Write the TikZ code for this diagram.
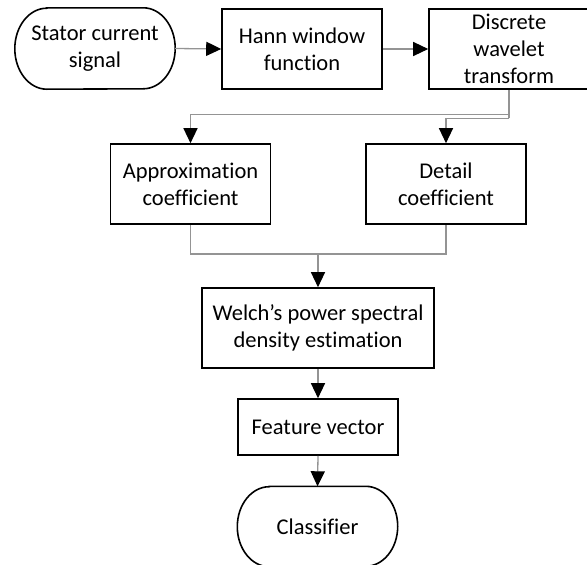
\documentclass[tikz,border=0pt]{standalone}
\usepackage{fontspec}
\setmainfont{Carlito}[Ligatures={NoCommon}]
\usetikzlibrary{arrows.meta,calc}
\begin{document}
\begin{tikzpicture}[x=1pt,y=-1pt,
  txt/.style={align=center,inner sep=1pt,font=\fontsize{22.5}{27}\selectfont},
  box/.style={txt,draw=black,line width=1.6pt,minimum width=160pt,minimum height=80pt},
  term/.style={txt,minimum width=160pt,minimum height=80pt},
  termline/.style={draw=black,line width=1.6pt},
  plain/.style={draw=black!42,line width=1.3pt},
  conn/.style={plain,-{Triangle[length=15pt,width=14pt,black]}}]
\useasboundingbox (0,0) rectangle (587,565);
\node[term,minimum height=81pt] (st) at (95,48.5) {Stator current\\signal};
\node[box] (hann) at (302,49) {Hann window\\function};
\node[box] (dwt) at (509,49) {Discrete\\wavelet\\transform};
\node[box] (app) at (190.5,184) {Approximation\\coefficient};
\node[box] (det) at (446,184) {Detail\\coefficient};
\node[box,minimum width=232pt] (welch) at (318,328) {Welch’s power spectral\\density estimation};
\node[box,minimum height=56pt] (feat) at (318,427) {Feature vector};
\node[term,minimum height=80pt] (cls) at (317.5,526.5) {Classifier};
\draw[termline] ($(st.north west)+(32,0)$) -- ($(st.north east)+(-32,0)$)
  arc[start angle=90,end angle=-90,x radius=32pt,y radius=40.5pt]
  -- ($(st.south west)+(32,0)$)
  arc[start angle=270,end angle=90,x radius=32pt,y radius=40.5pt] -- cycle;
\draw[termline] ($(cls.north west)+(32,0)$) -- ($(cls.north east)+(-32,0)$)
  arc[start angle=90,end angle=-90,x radius=32pt,y radius=40pt]
  -- ($(cls.south west)+(32,0)$)
  arc[start angle=270,end angle=90,x radius=32pt,y radius=40pt] -- cycle;
\draw[conn] (st.east) -- (hann.west);
\draw[conn] (hann.east) -- (dwt.west);
\coordinate (b1) at (509,114.3);
\coordinate (b2) at (509,118.3);
\draw[plain] (dwt.south) -- (b2);
\draw[conn] (b1) -| (app.north);
\draw[conn] (b2) -| (det.north);
\coordinate (m) at (318,254);
\draw[plain] (app.south) |- (m) -| (det.south);
\draw[conn] (m) -- (welch.north);
\draw[conn] (welch.south) -- (feat.north);
\draw[conn] (feat.south) -- (cls.north);
\end{tikzpicture}
\end{document}
